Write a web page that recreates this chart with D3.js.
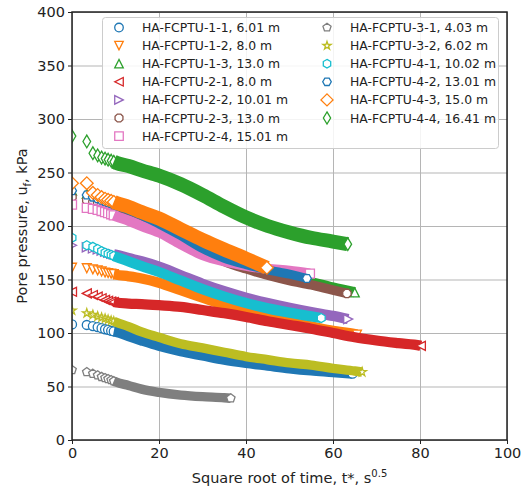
<!DOCTYPE html>
<html>
<head>
<meta charset="utf-8">
<script src="https://cdn.jsdelivr.net/npm/d3@7"></script>
<style>
  body { margin: 0; background: #fff; }
  svg { font-family: "DejaVu Sans", sans-serif; }
</style>
</head>
<body>
<div id="container"></div>
<script>
let w = 530;
let h = 488;
let plotLeft = 72, plotRight = 507, plotTop = 12, plotBottom = 440;

// sqrt-time readings (s^0.5) shared by all soundings
let tGrid = [0, 3.4, 4.8, 5.9, 6.8, 7.6, 8.3, 9.0, 9.6, 10.2, 13, 16, 20, 25, 30, 35, 40, 45, 50, 55, 60, 65, 70, 75, 80];

let seriesLabels = [
  "HA-FCPTU-1-1, 6.01 m", "HA-FCPTU-1-2, 8.0 m", "HA-FCPTU-1-3, 13.0 m",
  "HA-FCPTU-2-1, 8.0 m", "HA-FCPTU-2-2, 10.01 m", "HA-FCPTU-2-3, 13.0 m",
  "HA-FCPTU-2-4, 15.01 m", "HA-FCPTU-3-1, 4.03 m", "HA-FCPTU-3-2, 6.02 m",
  "HA-FCPTU-4-1, 10.02 m", "HA-FCPTU-4-2, 13.01 m", "HA-FCPTU-4-3, 15.0 m",
  "HA-FCPTU-4-4, 16.41 m"
];
let seriesColors = ["#1f77b4", "#ff7f0e", "#2ca02c", "#d62728", "#9467bd", "#8c564b",
  "#e377c2", "#7f7f7f", "#bcbd22", "#17becf", "#1f77b4", "#ff7f0e", "#2ca02c"];
let seriesMarkers = ["o", "v", "^", "<", ">", "8", "s", "p", "*", "h", "H", "D", "d"];

// last sqrt-time of each sounding
let tEnd = [64.5, 65.5, 65, 80.2, 63.5, 63.2, 54.7, 36.5, 66.7, 57.3, 54, 44.8, 63.4];

// pore pressure (kPa) at tGrid points below tEnd, then at tEnd
let u11 = [108, 107.5, 106.5, 105.5, 104.5, 103.5, 103, 102, 101.5, 101, 97, 93, 88, 83, 79, 75, 72, 69.5, 67, 65, 63.5, 62];
let u12 = [161, 160.5, 159.5, 158.5, 157.5, 156.5, 156, 155.5, 155, 154.5, 153, 151, 147, 140, 133, 126, 120, 114.5, 110, 106, 102, 99, 98.5];
let u13 = [233, 230, 228, 226, 225, 224, 223, 222, 221, 220, 216, 211, 204, 193, 182, 172, 164, 158, 152.5, 147.5, 142.5, 138];
let u21 = [138.5, 137, 135.5, 134, 132.5, 131, 130, 129.5, 129, 128.5, 127.5, 127, 126, 124.5, 121.5, 118.5, 115, 111, 107.5, 104, 100, 96, 93, 90.5, 88.2, 88];
let u22 = [182, 180, 179, 178, 177, 176, 175, 174, 173.5, 173, 170, 167, 162, 154, 146, 139, 133, 128, 123.5, 119.5, 116, 113];
let u23 = [227, 224, 222, 221, 220, 219, 218, 217, 216, 215, 211, 206, 199, 188, 177, 167, 160, 154, 149, 145, 140, 137];
let u24 = [220, 217, 216, 215, 214, 213, 212, 211, 210, 209, 205, 200, 194, 183, 173, 167, 163, 160, 158, 155.5];
let u31 = [65.5, 63.5, 62, 60.5, 59, 58, 57, 56, 55, 54, 51, 47.5, 44.5, 42, 40.5, 39.5, 39];
let u32 = [121, 118.5, 117, 115.5, 114.5, 113.5, 112.5, 111.5, 111, 110, 106, 101, 96, 90, 86, 82, 78, 75, 72, 70, 67, 64.5, 63.5];
let u41 = [189, 182, 180.5, 178.5, 176.5, 175, 174, 173, 172, 171, 167, 162.5, 157, 149, 141, 134, 128, 123, 119, 115.5, 114];
let u42 = [233, 229, 227, 225.5, 224, 223, 222, 221, 220, 219, 215, 210, 202, 191, 179, 170, 164, 159, 155, 151];
let u43 = [240, 240, 231, 229, 227, 225.5, 224.5, 223.5, 222.5, 221.5, 218, 213, 207, 197, 187, 178, 169.5, 161];
let u44 = [284, 279, 268, 266, 264, 263, 262, 261, 260, 259, 256, 252, 247, 239, 229, 218, 208, 200, 194, 189, 185.5, 183];

let seriesValues = [u11, u12, u13, u21, u22, u23, u24, u31, u32, u41, u42, u43, u44];

let xTicks = [0, 20, 40, 60, 80, 100];
let yTicks = [0, 50, 100, 150, 200, 250, 300, 350, 400];

let markerSize = 9;
let bandStart = 9; // index where overlapping markers become a solid band

let viz = d3.select("#container")
  .append("svg")
    .attr("width", w)
    .attr("height", h)
    .style("background-color", "#fff");

let xScale = d3.scaleLinear().domain([0, 100]).range([plotLeft, plotRight]);
let yScale = d3.scaleLinear().domain([0, 400]).range([plotBottom, plotTop]);

viz.append("defs").append("clipPath").attr("id", "plotClip")
  .append("rect")
    .attr("x", plotLeft).attr("y", plotTop)
    .attr("width", plotRight - plotLeft).attr("height", plotBottom - plotTop);

// grid
let gridGroup = viz.append("g").attr("class", "grid");
gridGroup.append("g")
  .attr("transform", "translate(0," + plotBottom + ")")
  .call(d3.axisBottom(xScale).tickValues(xTicks).tickSize(-(plotBottom - plotTop)).tickFormat(""));
gridGroup.append("g")
  .attr("transform", "translate(" + plotLeft + ",0)")
  .call(d3.axisLeft(yScale).tickValues(yTicks).tickSize(-(plotRight - plotLeft)).tickFormat(""));
gridGroup.selectAll(".domain").remove();
gridGroup.selectAll("line").attr("stroke", "#b5b5b5").attr("stroke-width", 1);

// marker shapes, s = marker size in px
function polygon(pts) {
  return "M" + pts.map(p => p[0].toFixed(2) + "," + p[1].toFixed(2)).join("L") + "Z";
}
function regular(n, r, rotDeg) {
  let pts = [];
  for (let i = 0; i < n; i++) {
    let a = (rotDeg + i * 360 / n) * Math.PI / 180;
    pts.push([r * Math.sin(a), -r * Math.cos(a)]);
  }
  return pts;
}
function markerPath(type, s) {
  let r = s / 2;
  if (type == "o") return "M" + r + ",0A" + r + "," + r + " 0 1 1 " + (-r) + ",0A" + r + "," + r + " 0 1 1 " + r + ",0Z";
  if (type == "v") return polygon([[0, r], [-r, -r], [r, -r]]);
  if (type == "^") return polygon([[0, -r], [-r, r], [r, r]]);
  if (type == "<") return polygon([[-r, 0], [r, -r], [r, r]]);
  if (type == ">") return polygon([[r, 0], [-r, -r], [-r, r]]);
  if (type == "s") return polygon([[-r, -r], [r, -r], [r, r], [-r, r]]);
  if (type == "p") return polygon(regular(5, r, 0));
  if (type == "h") return polygon(regular(6, r, 0));
  if (type == "H") return polygon(regular(6, r, 30));
  if (type == "8") return polygon(regular(8, r, 22.5));
  if (type == "*") {
    let outer = regular(5, r, 0), inner = regular(5, r * 0.382, 36), pts = [];
    for (let i = 0; i < 5; i++) { pts.push(outer[i]); pts.push(inner[i]); }
    return polygon(pts);
  }
  let d = r * Math.SQRT2;
  if (type == "D") return polygon([[0, -d], [d, 0], [0, d], [-d, 0]]);
  if (type == "d") return polygon([[0, -d], [d * 0.6, 0], [0, d], [-d * 0.6, 0]]);
}
let markerHeight = { "o": 1, "v": 1, "^": 1, "<": 1, ">": 1, "s": 1, "p": 0.9, "*": 0.9,
  "h": 1, "H": 0.87, "8": 0.92, "D": 1.41, "d": 1.41 };

// data
let dataGroup = viz.append("g").attr("class", "data").attr("clip-path", "url(#plotClip)");
let line = d3.line().x(d => xScale(d.t)).y(d => yScale(d.u)).curve(d3.curveMonotoneX);

seriesValues.forEach((vals, i) => {
  let times = tGrid.filter(t => t < tEnd[i]).concat([tEnd[i]]);
  let pts = vals.map((u, k) => ({ t: times[k], u: u }));
  let g = dataGroup.append("g").attr("class", "series");
  let path = markerPath(seriesMarkers[i], markerSize);

  g.selectAll(".early").data(pts.slice(0, bandStart)).enter()
    .append("path")
      .attr("class", "early")
      .attr("d", path)
      .attr("transform", d => "translate(" + xScale(d.t) + "," + yScale(d.u) + ")")
      .attr("fill", "#fff")
      .attr("stroke", seriesColors[i])
      .attr("stroke-width", 1.3);

  g.append("path")
    .datum(pts.slice(bandStart - 1))
    .attr("d", line)
    .attr("fill", "none")
    .attr("stroke", seriesColors[i])
    .attr("stroke-width", markerSize * markerHeight[seriesMarkers[i]] + 1.3);

  let last = pts[pts.length - 1];
  g.append("path")
    .attr("d", path)
    .attr("transform", "translate(" + xScale(last.t) + "," + yScale(last.u) + ")")
    .attr("fill", "#fff")
    .attr("stroke", seriesColors[i])
    .attr("stroke-width", 1.3);
});

// frame
viz.append("rect")
  .attr("x", plotLeft).attr("y", plotTop)
  .attr("width", plotRight - plotLeft).attr("height", plotBottom - plotTop)
  .attr("fill", "none").attr("stroke", "#222").attr("stroke-width", 1.5);

// axes
let xAxisGroup = viz.append("g")
  .attr("transform", "translate(0," + plotBottom + ")")
  .call(d3.axisBottom(xScale).tickValues(xTicks).tickSize(4).tickPadding(4));
let yAxisGroup = viz.append("g")
  .attr("transform", "translate(" + plotLeft + ",0)")
  .call(d3.axisLeft(yScale).tickValues(yTicks).tickSize(4).tickPadding(3));
[xAxisGroup, yAxisGroup].forEach(a => {
  a.select(".domain").remove();
  a.selectAll("line").attr("stroke", "#222");
  a.selectAll("text").attr("fill", "#222").style("font-size", "14.5px").style("font-family", "DejaVu Sans");
});

// axis labels
viz.append("text")
  .attr("x", (plotLeft + plotRight) / 2)
  .attr("y", 483)
  .attr("text-anchor", "middle")
  .attr("fill", "#222")
  .style("font-size", "14.5px")
  .text("Square root of time, t*, s")
  .append("tspan").attr("dy", -6).style("font-size", "10px").text("0.5");

let yLabel = viz.append("text")
  .attr("transform", "translate(27," + (plotTop + plotBottom) / 2 + ") rotate(-90)")
  .attr("text-anchor", "middle")
  .attr("fill", "#222")
  .style("font-size", "14.5px");
yLabel.append("tspan").text("Pore pressure, u");
yLabel.append("tspan").attr("dy", 4).style("font-size", "10px").text("f");
yLabel.append("tspan").attr("dy", -4).text(", kPa");

// legend
let legend = viz.append("g").attr("class", "legend");
legend.append("rect")
  .attr("x", 102.5).attr("y", 17.5).attr("width", 396).attr("height", 131)
  .attr("rx", 3)
  .attr("fill", "#fff").attr("fill-opacity", 0.85)
  .attr("stroke", "#cccccc").attr("stroke-width", 1);

let legendItems = legend.selectAll(".item").data(seriesLabels).enter()
  .append("g")
    .attr("class", "item")
    .attr("transform", (d, i) => {
      let col = i < 7 ? 0 : 1;
      let row = i < 7 ? i : i - 7;
      return "translate(" + (col == 0 ? 119 : 327) + "," + (27.5 + row * 18.1) + ")";
    });
legendItems.append("path")
  .attr("d", (d, i) => markerPath(seriesMarkers[i], markerSize * 0.95))
  .attr("fill", "#fff")
  .attr("stroke", (d, i) => seriesColors[i])
  .attr("stroke-width", 1.3);
legendItems.append("text")
  .attr("x", 23)
  .attr("y", 4.5)
  .attr("fill", "#222")
  .style("font-size", "12.4px")
  .text(d => d);
</script>
</body>
</html>
